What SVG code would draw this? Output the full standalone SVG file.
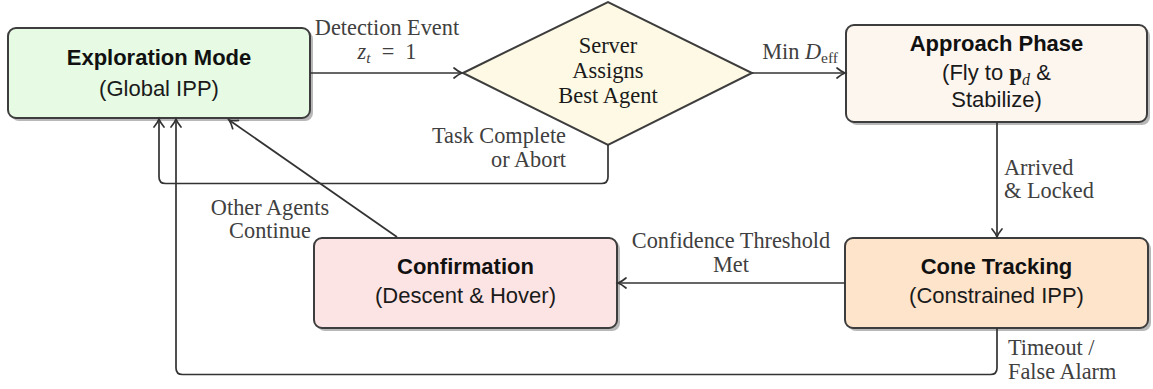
<svg xmlns="http://www.w3.org/2000/svg" width="1153" height="389" viewBox="0 0 1153 389">
  <style>
    .box { stroke: #3d3d3d; stroke-width: 2; }
    .shadow { fill: #b8b8b8; }
    .title { font-family: "Liberation Sans", Arial, sans-serif; font-weight: bold; font-size: 22px; fill: #111; text-anchor: middle; }
    .sub { font-family: "Liberation Sans", Arial, sans-serif; font-size: 22px; fill: #1a1a1a; text-anchor: middle; }
    .lbl { font-family: "Liberation Serif", "Times New Roman", serif; font-size: 22.3px; fill: #404040; }
    .dtext { font-family: "Liberation Serif", "Times New Roman", serif; font-size: 22.5px; fill: #1a1a1a; text-anchor: middle; }
    .edge { fill: none; stroke: #333; stroke-width: 1.7; marker-end: url(#arrow); }
  </style>
  <defs>
    <marker id="arrow" markerUnits="userSpaceOnUse" markerWidth="14" markerHeight="14" viewBox="-10 -7 12 14" refX="0" refY="0" orient="auto">
      <path d="M -8 -5 Q -3.5 -1.2 0 0 Q -3.5 1.2 -8 5" fill="none" stroke="#333" stroke-width="1.7" stroke-linecap="round"/>
    </marker>
  </defs>

  <rect width="1153" height="389" fill="#ffffff"/>

  <!-- Exploration Mode -->
  <g id="exploration">
    <rect class="shadow" x="11" y="31" width="302" height="90" rx="8"/>
    <rect class="box" x="8" y="28" width="302" height="90" rx="8" fill="#e7fbe4"/>
    <text class="title" x="159" y="65">Exploration Mode</text>
    <text class="sub" x="159" y="96">(Global IPP)</text>
  </g>

  <!-- Server decision -->
  <g id="server">
    <polygon class="box" points="463,73 608,2 752,73 608,145" fill="#fdf9e4"/>
    <text class="dtext" x="608" y="53">Server</text>
    <text class="dtext" x="608" y="78">Assigns</text>
    <text class="dtext" x="608" y="103">Best Agent</text>
  </g>

  <!-- Approach Phase -->
  <g id="approach">
    <rect class="shadow" x="849" y="28" width="301" height="97" rx="8"/>
    <rect class="box" x="846" y="25" width="301" height="97" rx="8" fill="#fdf6ef"/>
    <text class="title" x="996.5" y="51">Approach Phase</text>
    <text class="sub" x="996.5" y="80">(Fly to <tspan font-family="Liberation Serif, serif" font-weight="bold" font-size="23px">p</tspan><tspan font-family="Liberation Serif, serif" font-style="italic" font-size="16px" dy="5">d</tspan><tspan dy="-5"> &amp;</tspan></text>
    <text class="sub" x="996.5" y="107">Stabilize)</text>
  </g>

  <!-- Cone Tracking -->
  <g id="cone">
    <rect class="shadow" x="848" y="241" width="303" height="90" rx="8"/>
    <rect class="box" x="845" y="238" width="303" height="90" rx="8" fill="#fde4cb"/>
    <text class="title" x="996.5" y="274">Cone Tracking</text>
    <text class="sub" x="996.5" y="303">(Constrained IPP)</text>
  </g>

  <!-- Confirmation -->
  <g id="confirmation">
    <rect class="shadow" x="317" y="241" width="303" height="90" rx="8"/>
    <rect class="box" x="314" y="238" width="303" height="90" rx="8" fill="#fde4e4"/>
    <text class="title" x="465.5" y="274">Confirmation</text>
    <text class="sub" x="465.5" y="303">(Descent &amp; Hover)</text>
  </g>

  <!-- Connectors -->
  <g id="connectors">
    <path class="edge" d="M 310 73 L 462 73"/>
    <path class="edge" d="M 752 73 L 845 73"/>
    <path class="edge" d="M 997 122 L 997 237"/>
    <path class="edge" d="M 845 283 L 618 283"/>
    <path class="edge" d="M 397 237 L 229 120"/>
    <path class="edge" d="M 608 145 L 608 177 Q 608 183.5 601.5 183.5 L 165.5 183.5 Q 159 183.5 159 177 L 159 119"/>
    <path class="edge" d="M 997 328 L 997 368 Q 997 374.5 990.5 374.5 L 182.5 374.5 Q 176 374.5 176 368 L 176 119"/>
  </g>

  <!-- Connector labels -->
  <g id="labels">
    <text class="lbl" x="387" y="35" text-anchor="middle">Detection Event</text>
    <text class="lbl" x="387" y="59" text-anchor="middle"><tspan font-style="italic">z</tspan><tspan font-style="italic" font-size="15.5px" dy="4">t</tspan><tspan dy="-4" xml:space="preserve">  =  1</tspan></text>
    <text class="lbl" x="838" y="59" text-anchor="end">Min <tspan font-style="italic">D</tspan><tspan font-size="15.5px" dy="4">eff</tspan></text>
    <text class="lbl" x="566" y="143" text-anchor="end">Task Complete</text>
    <text class="lbl" x="566" y="167" text-anchor="end">or Abort</text>
    <text class="lbl" x="1004" y="175">Arrived</text>
    <text class="lbl" x="1004" y="198">&amp; Locked</text>
    <text class="lbl" x="731" y="248" text-anchor="middle">Confidence Threshold</text>
    <text class="lbl" x="731" y="272" text-anchor="middle">Met</text>
    <text class="lbl" x="270" y="215" text-anchor="middle">Other Agents</text>
    <text class="lbl" x="270" y="238" text-anchor="middle">Continue</text>
    <text class="lbl" x="1008" y="355">Timeout /</text>
    <text class="lbl" x="1008" y="379">False Alarm</text>
  </g>
</svg>
